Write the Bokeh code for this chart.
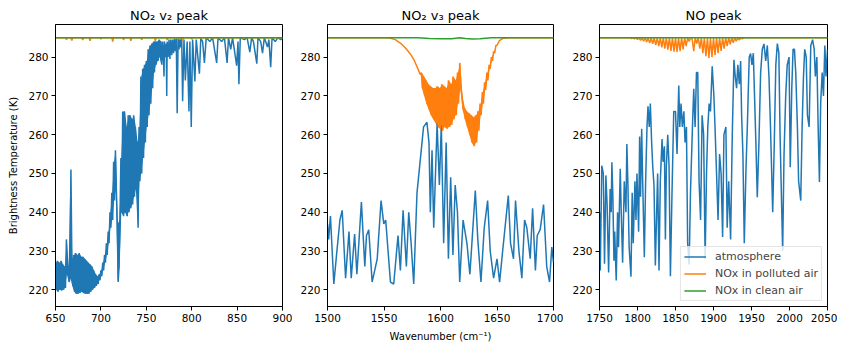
from bokeh.plotting import figure
from bokeh.layouts import row
from bokeh.models import Range1d, FixedTicker, Legend, LegendItem
from bokeh.embed import file_html
from bokeh.resources import INLINE

# ---------------- data ----------------
TITLES = ["NO\u2082 v\u2082 peak", "NO\u2082 v\u2083 peak", "NO peak"]
X_TICKS = [[650, 700, 750, 800, 850, 900],
           [1500, 1550, 1600, 1650, 1700],
           [1750, 1800, 1850, 1900, 1950, 2000, 2050]]
Y_TICKS = [220, 230, 240, 250, 260, 270, 280]
SERIES = ["atmosphere", "NOx in polluted air", "NOx in clean air"]

# Panel 1: NO2 v2 peak
atm1_x = [650, 651, 652, 653, 654, 655, 656, 657, 658, 659, 660, 661, 662, 663, 664, 665, 666, 667, 668, 669,
          670, 671, 672, 673, 674, 675, 676, 677, 678, 679, 680, 681, 682, 683, 684, 685, 686, 687, 688, 689,
          690, 691, 692, 693, 694, 695, 696, 697, 698, 699, 700, 701, 702, 703, 704, 705, 706, 707, 708, 709,
          710, 711, 712, 713, 714, 715, 716, 717, 718, 719, 720, 721, 722, 723, 724, 725, 726, 727, 728, 729,
          730, 731, 732, 733, 734, 735, 736, 737, 738, 739, 740, 741, 742, 743, 744, 745, 746, 747, 748, 749,
          750, 751, 752, 753, 754, 755, 756, 757, 758, 759, 760, 761, 762, 763, 764, 765, 766, 767,
          768, 769, 769.5, 770, 771, 772, 772.5, 773, 774, 775, 776, 777, 778, 779, 780, 781, 782, 783, 784,
          785, 786, 787, 788, 789, 790, 791.5, 793, 795, 797, 798,
          799.5, 801, 803.5, 805, 808.5, 810, 812, 814, 816, 820, 823, 827.5, 829, 833, 836, 839, 840.5, 843,
          845, 849.5, 851, 852, 853.5, 858, 861, 864, 866, 868, 871.7, 873, 876, 878, 880, 883.5, 885, 887,
          888.5, 892, 895, 898, 900]
atm1_y = [227, 220, 227.5, 219.5, 227, 220, 227.5, 219.8, 226.5, 220, 226, 220.5, 233, 224, 226, 222, 223, 251, 228, 221,
          229, 219.5, 229.5, 219, 229, 219, 229.5, 219.2, 228.5, 219.5, 228.5, 219.2, 228, 219, 227.5, 219, 227, 219, 226.5, 219.5,
          226, 220, 225, 220.5, 224, 221, 223.5, 221.5, 224, 222.5, 225, 223.5, 227, 225, 229, 227, 232, 229, 235, 232,
          240, 236, 245, 238, 253, 243, 256, 246, 237, 222, 226, 238, 254, 240, 266, 239, 266, 240, 262, 239,
          265, 240, 265, 241, 264, 242, 265, 244, 262, 246, 258, 236, 262, 248, 275, 250, 277, 254, 278, 258,
          279, 262, 282, 265, 283, 268, 283.5, 272, 284, 276, 284, 278, 284, 279, 284.5, 280, 284, 278,
          284, 279, 275, 284, 280, 283.5, 270, 284, 280, 284.5, 279.5, 284.5, 280.5, 284.5, 281, 284.8, 281.5, 284.8, 265.5,
          284.8, 282, 285, 282.5, 285, 268.6, 284.5, 274, 284, 266, 284,
          262, 284.5, 273.7, 284.5, 275.7, 284.8, 284, 278.5, 285, 284, 285, 278.5, 285, 284, 285, 278.5, 285, 282,
          285, 277.8, 284, 273, 285, 284.5, 285, 281.3, 285, 284, 278.3, 285, 284, 281, 285, 282.6, 284.5, 277.4,
          285, 284, 285, 284.5, 285]
pol1_x = [650, 661, 662, 663, 667, 668, 669, 679, 680, 681, 687, 688, 689, 699, 700, 701, 712, 713, 714,
          724, 725, 726, 732, 733, 734, 744, 745, 746, 759, 760, 761, 772, 773, 774, 786, 787, 788, 789,
          790, 791, 799, 800, 801, 809, 810, 811, 900]
pol1_y = [285, 285, 284.5, 285, 285, 284.3, 285, 285, 284.4, 285, 285, 284.2, 285, 285, 284.6, 285, 285, 284.0, 285,
          285, 284.4, 285, 285, 284.2, 285, 285, 284.5, 285, 285, 284.2, 285, 285, 284.4, 285, 285, 284.5, 285, 285,
          284.3, 285, 285, 284.6, 285, 285, 284.8, 285, 285]
cln1_x = [650, 900]
cln1_y = [285, 285]

# Panel 2: NO2 v3 peak
atm2_x = [1500, 1501, 1502.6, 1505.6, 1508, 1511, 1513, 1516, 1519, 1521, 1524, 1526, 1530, 1533, 1534.5,
          1536.5, 1539.5, 1544, 1547.4, 1549.8, 1551.5, 1555.7, 1558.6, 1562.4, 1564.5, 1566.9, 1569.8,
          1571.9, 1574, 1576.3, 1579.2, 1581.6, 1585, 1588, 1589.8, 1591, 1592.5, 1594, 1597, 1599, 1600.7,
          1602.8, 1605, 1607, 1609, 1611, 1613, 1615, 1617, 1620, 1623.4, 1626, 1628, 1630.8, 1633, 1635.8,
          1638.7, 1641.7, 1644, 1647, 1650, 1652.3, 1655, 1660, 1662, 1664.6, 1666.4, 1669.4, 1672, 1674.4,
          1676.4, 1679.4, 1681.5, 1684, 1685.6, 1688.2, 1691.2, 1694, 1696.5, 1698.5, 1700]
atm2_y = [237, 233, 239, 221.5, 229, 238, 240.5, 223, 235, 223, 234.4, 224, 242.6, 226, 234,
          235.5, 222, 228, 243, 237, 238, 222, 221.5, 234, 225, 240.5, 226,
          240, 232, 221.5, 245, 252, 262, 263.2, 258, 240, 256, 236, 262.8, 247, 262.5,
          232, 258, 228, 249, 229, 247, 240, 222, 238, 232, 224, 233, 245.6, 233, 222,
          236, 243, 230, 223, 228, 222, 230, 244.3, 232, 228, 243, 230, 223, 238,
          236, 228, 241, 225, 234, 235.5, 242, 226, 222, 231, 227]
pol2_x = [1500, 1550, 1555, 1560, 1565, 1570, 1574, 1577, 1580, 1582,
          1583, 1584, 1585, 1586, 1587, 1588, 1589, 1590, 1591, 1592, 1593, 1594, 1595, 1596, 1597, 1598,
          1599, 1600, 1601, 1602, 1603, 1604, 1605, 1606, 1607, 1608, 1609, 1610, 1611, 1612, 1613, 1614,
          1615, 1616, 1617, 1618, 1619, 1620, 1621, 1622, 1623, 1624, 1625, 1626, 1627, 1628, 1629, 1630,
          1631, 1632, 1633, 1634, 1635, 1636, 1637, 1638, 1639, 1640, 1641, 1642, 1643, 1644, 1645, 1646,
          1647, 1648, 1649, 1650, 1652, 1655, 1660, 1700]
pol2_y = [285, 285, 284.9, 284.5, 283.5, 282, 280.5, 279, 277, 275.5,
          276, 272, 275, 270, 274, 268, 273, 266.5, 272.5, 265, 272, 264, 272, 263, 272.5, 262,
          272, 261.5, 273, 261, 272.5, 262, 272, 261.5, 274, 262, 273, 262.5, 275, 264, 274, 265,
          276, 268, 278.5, 272, 270, 266.5, 267, 264, 266, 262, 265.5, 260, 265, 258, 264.5, 257,
          265, 258, 266, 261, 268, 265, 271, 268, 273.5, 271.5, 276, 274, 278, 277, 280, 279,
          281.5, 281, 283, 283, 284.2, 284.8, 285, 285]
cln2_x = [1500, 1580, 1590, 1600, 1610, 1617, 1622, 1628, 1635, 1645, 1700]
cln2_y = [285, 285, 284.8, 284.7, 284.75, 285, 284.8, 284.65, 284.75, 285, 285]

# Panel 3: NO peak
atm3_x = [1750, 1751, 1753, 1755, 1756.6, 1758.4, 1760, 1762, 1764, 1765.4, 1766.3, 1767.6, 1769, 1770,
          1772, 1773.8, 1775, 1777.3, 1778.6, 1780.4, 1782.6, 1784.8, 1786, 1787.4, 1789, 1791.4, 1793,
          1794.4, 1796.6, 1798, 1799.3, 1801.5, 1802.8, 1804, 1805.5, 1806.8, 1809, 1810.7, 1812.5, 1813.8,
          1815.5, 1816.9, 1818.6, 1820, 1821.7, 1823.5, 1825.2, 1826.5, 1828.3, 1830, 1832.3, 1833.6, 1835.4,
          1836.7, 1838, 1839.8, 1841.5, 1843.3, 1845.5, 1847.7, 1850, 1852, 1854.3, 1855.6, 1857.3, 1859,
          1861, 1862.6, 1864.4, 1866, 1868, 1869.7, 1872.3, 1874, 1875.8, 1877.6, 1879.3, 1881, 1883, 1885,
          1887, 1889, 1890.8, 1892.5, 1894.3, 1896, 1898.3, 1900.5, 1902, 1904, 1906, 1908, 1910, 1912,
          1913.7, 1916.3, 1918, 1920, 1922.5, 1924.7, 1926.9, 1928.6, 1930.4, 1932, 1934, 1935.7, 1937,
          1938.7, 1940.5, 1942.7, 1944.5, 1947, 1948.8, 1950.6, 1952.4, 1954, 1955.9, 1957.6, 1959.8, 1962,
          1964.2, 1966.4, 1968.7, 1970.8, 1973, 1975, 1977.9, 1980, 1982, 1984, 1986, 1987.6, 1989.4, 1991,
          1992.8, 1995, 1997, 1999.4, 2001, 2003, 2004.7, 2006.5, 2008.2, 2010.4, 2012, 2014.8, 2016.6,
          2018.4, 2020, 2022, 2023.6, 2025.8, 2028, 2030.4, 2032.5, 2034, 2036, 2037.7, 2039.4, 2041, 2043,
          2044.7, 2046.5, 2048, 2050]
atm3_y = [240, 225, 252, 250, 226.7, 249.5, 242, 224.5, 246, 240, 252.9, 244, 227.5, 235,
          222.4, 240, 231, 251.2, 240, 227, 248, 240, 257.6, 247, 231, 223.4, 245,
          232, 248, 238, 250, 235, 259.5, 244, 261.5, 248, 228.4, 248, 262, 267.3,
          262, 268, 258, 252, 247, 226.3, 240, 250, 225, 248, 258.9, 253, 257,
          233, 252, 260, 252, 223.5, 246, 266, 266, 255, 272.7, 262, 268, 262,
          266, 258, 262, 232, 226.5, 245, 262, 271.8, 262, 276, 276, 248, 238, 265,
          260, 228, 250, 262, 268, 266, 277.6, 270, 262, 250, 238, 255, 250, 233.6,
          260, 262, 236, 248, 233, 260, 279.3, 275, 272, 278, 273, 279, 265,
          255, 232, 251, 262, 280, 280.9, 278, 281, 270, 257, 243.9, 258, 276,
          282, 283.4, 279, 283, 275, 262, 240, 258, 278, 283.5, 281, 260, 244, 230,
          255, 270, 278, 280, 251.6, 272, 282, 282, 276, 262, 248, 243, 262,
          275, 282, 280, 265, 262, 283, 284.5, 282, 275, 280, 262, 247.8, 268, 276,
          270, 283, 275, 282]
pol3_x = [1750, 1790, 1792, 1794, 1796, 1798, 1800, 1802, 1804, 1806, 1808, 1810, 1812, 1814, 1816, 1818,
          1820, 1822, 1824, 1826, 1828, 1830, 1832, 1834, 1836, 1838, 1840, 1842, 1844, 1846, 1848, 1850,
          1852, 1854, 1856, 1858, 1860, 1862, 1864, 1866, 1868, 1870, 1872, 1874, 1876, 1878, 1880, 1882,
          1884, 1886, 1888, 1890, 1892, 1894, 1896, 1898, 1900, 1902, 1904, 1906, 1908, 1910, 1912, 1914,
          1916, 1918, 1920, 1922, 1924, 1926, 1928, 1930, 1932, 1934, 1936, 1938, 1940, 1950, 2050]
pol3_y = [285, 285, 284.8, 285, 284.7, 285, 284.5, 285, 284.3, 285, 284.1, 285, 283.9, 285, 283.6, 285,
          283.4, 285, 283.1, 285, 282.8, 285, 282.5, 285, 282.2, 285, 281.9, 285, 281.6, 285, 281.4, 285,
          281.3, 285, 281.5, 285, 282, 285, 282.8, 285, 284, 285, 284.6, 281.5, 285, 283.5, 285, 282.2,
          285, 281, 285, 280.2, 285, 279.8, 285, 280, 285, 280.5, 285, 281, 285, 281.6, 285, 282.2,
          285, 282.8, 285, 283.3, 285, 283.7, 285, 284.1, 285, 284.4, 285, 284.7, 285, 285, 285]
cln3_x = [1750, 2050]
cln3_y = [285, 285]

PANELS = [
    (atm1_x, atm1_y, pol1_x, pol1_y, cln1_x, cln1_y, (650, 900)),
    (atm2_x, atm2_y, pol2_x, pol2_y, cln2_x, cln2_y, (1500, 1700)),
    (atm3_x, atm3_y, pol3_x, pol3_y, cln3_x, cln3_y, (1750, 2050)),
]
Y_RANGE = (215.7, 288.4)
COLORS = ["#1f77b4", "#ff7f0e", "#2ca02c"]


def band_from_pairs(xs, ys, start, stop):
    """Filled envelope of a densely oscillating part of a series, built from its own (hi, lo) sample pairs."""
    bx, lo, hi = [], [], []
    for k in range(start, stop - 1, 2):
        bx.append((xs[k] + xs[k + 1]) / 2.0)
        lo.append(min(ys[k], ys[k + 1]))
        hi.append(max(ys[k], ys[k + 1]))
    return bx, lo, hi


# dense parts of series (index ranges into the arrays above)
DENSE = {0: [("atm", 0, 118)], 1: [("pol", 10, 78)]}

FONT = "DejaVu Sans"
borders = [(55, 10), (35, 10), (36, 10)]
fwidths = [227, 226, 228]

figs = []
for i, (ax, ay, px, py, cx, cy, xr) in enumerate(PANELS):
    p = figure(frame_width=fwidths[i], frame_height=282,
               x_range=Range1d(*xr), y_range=Range1d(*Y_RANGE),
               output_backend="svg", toolbar_location=None,
               min_border_left=borders[i][0], min_border_right=borders[i][1],
               min_border_top=24, min_border_bottom=40, title=TITLES[i])
    p.title.align = "center"
    p.title.text_font = FONT
    p.title.text_font_size = "13px"
    p.title.text_font_style = "normal"
    p.title.text_color = "#000000"
    p.title.standoff = 4
    p.title.offset = 0
    p.grid.visible = False
    p.outline_line_color = "#000000"
    p.outline_line_width = 1
    p.background_fill_color = "white"
    p.border_fill_color = "white"
    for axis in (p.xaxis[0], p.yaxis[0]):
        axis.axis_line_color = "#000000"
        axis.major_tick_line_color = "#000000"
        axis.major_tick_out = 4
        axis.major_tick_in = 0
        axis.minor_tick_line_color = None
        axis.major_label_text_font = FONT
        axis.major_label_text_font_size = "10.5px"
        axis.major_label_text_color = "#000000"
        axis.major_label_standoff = 3
        axis.axis_label_text_font = FONT
        axis.axis_label_text_font_size = "10px"
        axis.axis_label_text_font_style = "normal"
        axis.axis_label_text_color = "#000000"
    p.xaxis.ticker = FixedTicker(ticks=X_TICKS[i])
    p.yaxis.ticker = FixedTicker(ticks=Y_TICKS)
    if i == 0:
        p.yaxis.axis_label = "Brightness Temperature (K)"
        p.yaxis.axis_label_standoff = 6
    if i == 1:
        p.xaxis.axis_label = "Wavenumber (cm\u207b\u00b9)"
        p.xaxis.axis_label_standoff = 6
    for kind, s, e in DENSE.get(i, []):
        xs, ys, col = (ax, ay, COLORS[0]) if kind == "atm" else (px, py, COLORS[1])
        bx, lo, hi = band_from_pairs(xs, ys, s, e)
        p.varea(x=bx, y1=lo, y2=hi, fill_color=col, fill_alpha=1.0)
    r1 = p.line(ax, ay, line_color=COLORS[0], line_width=1.5)
    r2 = p.line(px, py, line_color=COLORS[1], line_width=1.5)
    r3 = p.line(cx, cy, line_color=COLORS[2], line_width=1.5)
    if i == 2:
        leg = Legend(items=[LegendItem(label=SERIES[0], renderers=[r1]),
                            LegendItem(label=SERIES[1], renderers=[r2]),
                            LegendItem(label=SERIES[2], renderers=[r3])],
                     location="bottom_right")
        leg.margin = 5
        leg.padding = 3
        leg.spacing = 4
        leg.label_text_font = FONT
        leg.label_text_font_size = "11px"
        leg.label_height = 13
        leg.glyph_height = 13
        leg.glyph_width = 22
        leg.label_standoff = 9
        leg.border_line_color = "#cccccc"
        leg.border_line_width = 1
        leg.background_fill_alpha = 0.8
        p.add_layout(leg, "center")
    figs.append(p)

layout = row(*figs, spacing=0)
open("out.html", "w").write(file_html(layout, INLINE))
